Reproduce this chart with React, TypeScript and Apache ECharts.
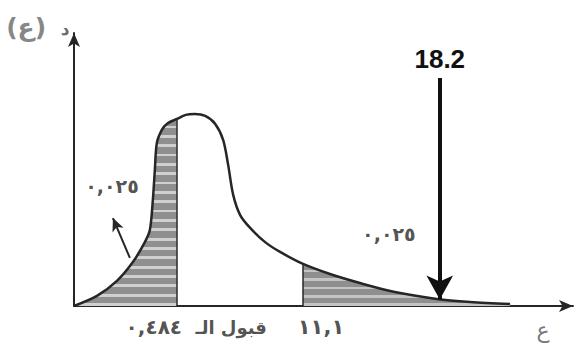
import React, { useEffect, useRef } from "react";
import * as echarts from "echarts";

// Schematic chi-square density (drawing units, not to scale)
const CURVE_X = [0, 4.6, 8.6, 11.8, 14.2, 15.2, 15.8, 16.2, 16.6, 17.6, 18.6, 20.6, 22.4, 24.2, 26.3, 28.3, 29.9, 30.9, 31.9, 33.3, 35.3, 38.3, 41.3, 45.9, 51.3, 57.3, 64.3, 72.7, 79.4, 87.4];
const CURVE_Y = [0, 3.7, 9.2, 16.1, 23.4, 27.8, 38.8, 49.8, 59.7, 64.5, 66.7, 68.5, 70, 70.3, 69.6, 66.7, 60.8, 51.6, 40.7, 33.3, 28.6, 23.4, 19.8, 15.4, 11.7, 8.4, 5.1, 2.6, 1.5, 0.7];

// critical points (schematic position) and their printed labels
const LOWER_CRIT_X = 20.6;
const UPPER_CRIT_X = 45.9;
const OBSERVED_X = 73.3;
const OBSERVED_LABEL = "18.2";
const TAIL_LABEL = "٠,٠٢٥";
const BOTTOM_LABEL_X = [16, 31.5, 49.5];
const BOTTOM_LABELS = ["٠,٤٨٤", "قبول الـ", "١١,١"];
const BOTTOM_LABEL_SIZE = [20, 18, 21];

const INK = "#262626";
const FONT = "'DejaVu Sans', sans-serif";

function stripes(n: number, a: string, b: string) {
  const stops: { offset: number; color: string }[] = [];
  for (let i = 0; i < n; i++) {
    const s = i / n;
    const m = s + 0.7 / n;
    const e = (i + 1) / n;
    stops.push({ offset: s, color: a }, { offset: m, color: a }, { offset: m, color: b }, { offset: e, color: b });
  }
  return new echarts.graphic.LinearGradient(0, 0, 0, 1, stops);
}

export default function App() {
  const ref = useRef<HTMLDivElement>(null);
  useEffect(() => {
    if (!ref.current) return;
    const chart = echarts.init(ref.current, null, { renderer: "svg" });
    const curve = CURVE_X.map((x, i) => [x, CURVE_Y[i]]);
    const left = curve.filter((p) => p[0] <= LOWER_CRIT_X);
    const right = curve.filter((p) => p[0] >= UPPER_CRIT_X);
    const lowerY = CURVE_Y[CURVE_X.indexOf(LOWER_CRIT_X)];
    const upperY = CURVE_Y[CURVE_X.indexOf(UPPER_CRIT_X)];
    const obsY = 2.4;

    const txt = (name: string, x: number, y: number, size: number, color = INK, weight: any = "bold") => ({
      name,
      value: [x, y],
      label: { show: true, position: "inside", formatter: "{b}", fontSize: size, color, fontWeight: weight, fontFamily: FONT },
    });

    chart.setOption({
      animation: false,
      backgroundColor: "#ffffff",
      grid: { left: 74, right: 3, top: 33, bottom: 43 },
      xAxis: {
        type: "value",
        min: 0,
        max: 100,
        axisLine: { show: true, symbol: ["none", "arrow"], symbolSize: [9, 14], lineStyle: { color: INK, width: 2 } },
        axisTick: { show: false },
        splitLine: { show: false },
        axisLabel: { show: false },
      },
      yAxis: {
        type: "value",
        min: 0,
        max: 100,
        axisLine: { show: true, symbol: ["none", "arrow"], symbolSize: [9, 14], lineStyle: { color: INK, width: 2 } },
        axisTick: { show: false },
        splitLine: { show: false },
        axisLabel: { show: false },
      },
      series: [
        {
          type: "line",
          data: left,
          symbol: "none",
          smooth: 0.3,
          lineStyle: { width: 0 },
          areaStyle: { color: stripes(20, "#8f8f8f", "#d0d0d0"), opacity: 1 },
          z: 1,
        },
        {
          type: "line",
          data: right,
          symbol: "none",
          smooth: 0.3,
          lineStyle: { width: 0 },
          areaStyle: { color: stripes(5, "#8f8f8f", "#c4c4c4"), opacity: 1 },
          z: 1,
        },
        {
          type: "line",
          data: curve,
          symbol: "none",
          smooth: 0.3,
          lineStyle: { color: INK, width: 2.5 },
          z: 3,
          markLine: {
            silent: true,
            symbol: ["none", "none"],
            label: { show: false },
            lineStyle: { color: INK, width: 1.5, type: "solid" },
            data: [
              [{ coord: [LOWER_CRIT_X, 0] }, { coord: [LOWER_CRIT_X, lowerY] }],
              [{ coord: [UPPER_CRIT_X, 0] }, { coord: [UPPER_CRIT_X, upperY] }],
            ],
          },
        },
        {
          type: "line",
          data: [],
          symbol: "none",
          z: 4,
          markLine: {
            silent: true,
            symbol: ["none", "arrow"],
            data: [
              [
                {
                  coord: [OBSERVED_X, 83.5],
                  lineStyle: { color: "#111", width: 4, type: "solid" },
                  symbolSize: [20, 24],
                  label: {
                    show: true,
                    position: "start",
                    formatter: OBSERVED_LABEL,
                    distance: 6,
                    fontSize: 26,
                    fontWeight: "bold",
                    color: "#111",
                    fontFamily: "'Liberation Sans', Arial, sans-serif",
                  },
                },
                { coord: [OBSERVED_X, obsY], symbolSize: [20, 24] },
              ],
              [
                { coord: [11.2, 17.6], lineStyle: { color: INK, width: 2, type: "solid" }, label: { show: false }, symbolSize: [9, 13] },
                { coord: [7.8, 32.2], symbolSize: [9, 13] },
              ],
            ],
          },
        },
        {
          type: "scatter",
          symbolSize: 0,
          clip: false,
          silent: true,
          z: 5,
          data: [
            txt(TAIL_LABEL, 7.6, 44, 19),
            txt(TAIL_LABEL, 63.1, 26.4, 19),
            ...BOTTOM_LABELS.map((t, i) => txt(t, BOTTOM_LABEL_X[i], -7.8, BOTTOM_LABEL_SIZE[i])),
            txt("ع", 94, -8.8, 22, "#555", "normal"),
            txt("د", -1.8, 101.5, 17, "#444", "bold"),
            txt("(ع)", -9.6, 102, 25, "#666", "bold"),
          ],
        },
      ],
    });
    return () => chart.dispose();
  }, []);
  return <div ref={ref} style={{ position: "absolute", left: 0, top: 0, width: 576, height: 349 }} />;
}
